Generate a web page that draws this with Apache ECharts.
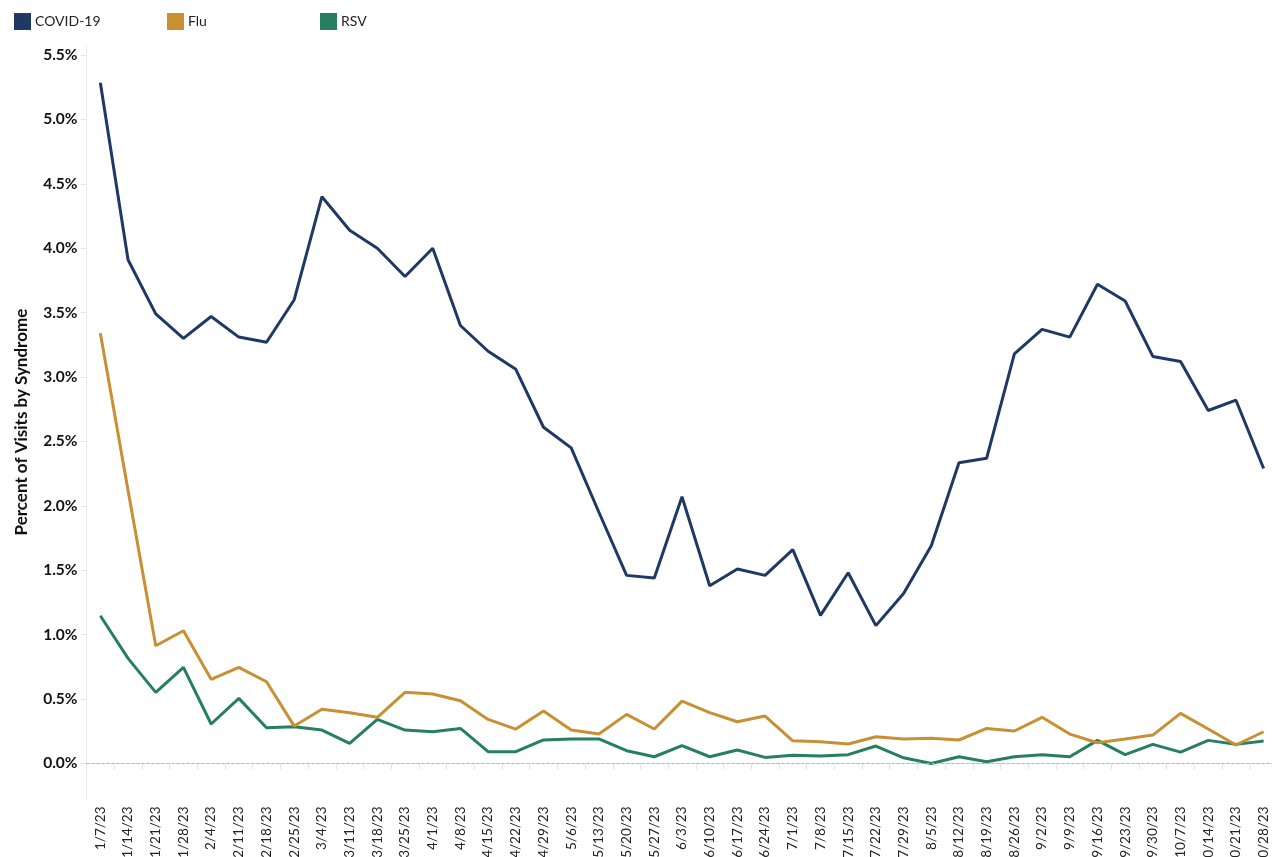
<!DOCTYPE html>
<html>
<head>
<meta charset="utf-8">
<script src="https://cdn.jsdelivr.net/npm/echarts@6/dist/echarts.min.js"></script>
<style>html,body{margin:0;padding:0;background:#fff}#c{width:1272px;height:857px}</style>
</head>
<body>
<div id="c"></div>
<script>
const categories = ['1/7/23','1/14/23','1/21/23','1/28/23','2/4/23','2/11/23','2/18/23','2/25/23','3/4/23','3/11/23','3/18/23','3/25/23','4/1/23','4/8/23','4/15/23','4/22/23','4/29/23','5/6/23','5/13/23','5/20/23','5/27/23','6/3/23','6/10/23','6/17/23','6/24/23','7/1/23','7/8/23','7/15/23','7/22/23','7/29/23','8/5/23','8/12/23','8/19/23','8/26/23','9/2/23','9/9/23','9/16/23','9/23/23','9/30/23','10/7/23','10/14/23','10/21/23','10/28/23'];
const covid = [5.285,3.91,3.49,3.30,3.47,3.31,3.27,3.60,4.40,4.14,4.00,3.78,4.00,3.40,3.20,3.06,2.61,2.45,1.95,1.46,1.44,2.07,1.38,1.51,1.46,1.66,1.15,1.48,1.07,1.32,1.69,2.335,2.37,3.18,3.37,3.31,3.72,3.59,3.16,3.12,2.74,2.82,2.29];
const flu = [3.34,2.12,0.914,1.03,0.653,0.746,0.634,0.29,0.42,0.394,0.358,0.552,0.539,0.487,0.342,0.267,0.407,0.259,0.228,0.381,0.267,0.484,0.394,0.324,0.368,0.176,0.169,0.151,0.207,0.189,0.195,0.182,0.272,0.252,0.358,0.228,0.161,0.189,0.22,0.389,0.267,0.143,0.246];
const rsv = [1.147,0.816,0.552,0.746,0.306,0.505,0.277,0.285,0.259,0.156,0.342,0.259,0.246,0.272,0.091,0.091,0.182,0.19,0.19,0.099,0.052,0.138,0.052,0.104,0.047,0.063,0.057,0.068,0.135,0.044,0.0,0.052,0.013,0.052,0.068,0.052,0.179,0.068,0.148,0.088,0.179,0.148,0.174];
const yTicks = [0,0.5,1,1.5,2,2.5,3,3.5,4,4.5,5,5.5];
const seriesNames = ['COVID-19','Flu','RSV'];
const colors = ['#1f3864','#c98f33','#267f5f'];

const chart = echarts.init(document.getElementById('c'), null, {renderer:'canvas'});
const FONT = 'Lato, "Open Sans", sans-serif';
const legendLefts = [9, 162, 315];
chart.setOption({
  animation:false,
  color: colors,
  legend: seriesNames.map((n, i) => ({
    left: legendLefts[i], top: 8, icon:'rect', itemWidth:17, itemHeight:17, itemGap:0,
    data: [n],
    textStyle:{fontFamily:FONT, fontSize:14, color:'#222', padding:[0,0,0,-1]}
  })),
  grid:{left:86.5, width:1191, top:44.7, bottom:57.5, containLabel:false, outerBoundsMode:'none'},
  xAxis:{
    type:'category', data: categories, boundaryGap:true,
    axisLine:{show:true, lineStyle:{color:'#e6e6e6', width:1}},
    axisTick:{show:true, interval:0, length:6, lineStyle:{color:'#e3e3e3'}},
    axisLabel:{interval:0, rotate:90, margin:7, fontFamily:FONT, fontSize:13.5, color:'#222'},
    splitLine:{show:false}
  },
  yAxis:{
    type:'value', min:-0.28, max:5.58,
    name:'Percent of Visits by Syndrome', nameLocation:'middle', nameGap:56, nameRotate:90,
    nameTextStyle:{fontFamily:FONT, fontSize:17, fontWeight:'bold', color:'#111'},
    axisLine:{show:true, lineStyle:{color:'#ececec'}},
    axisTick:{show:true, length:6, customValues: yTicks, lineStyle:{color:'#e6e6e6'}},
    axisLabel:{customValues: yTicks, margin:9, fontFamily:FONT, fontSize:15.5, fontWeight:'bold', color:'#111',
      formatter: v => v.toFixed(1) + '%'},
    splitLine:{show:false}
  },
  series: [
    {name:seriesNames[0], type:'line', data:covid, symbol:'none', lineStyle:{width:3, color:colors[0]}, itemStyle:{color:colors[0]}, z:3,
     markLine:{silent:true, symbol:['none','none'], label:{show:false}, lineStyle:{type:[3,2], color:'#b5b5b5', width:1}, data:[{yAxis:0}]}},
    {name:seriesNames[1], type:'line', data:flu, symbol:'none', lineStyle:{width:3, color:colors[1]}, itemStyle:{color:colors[1]}, z:2},
    {name:seriesNames[2], type:'line', data:rsv, symbol:'none', lineStyle:{width:3, color:colors[2]}, itemStyle:{color:colors[2]}, z:1}
  ]
});
</script>
</body>
</html>
